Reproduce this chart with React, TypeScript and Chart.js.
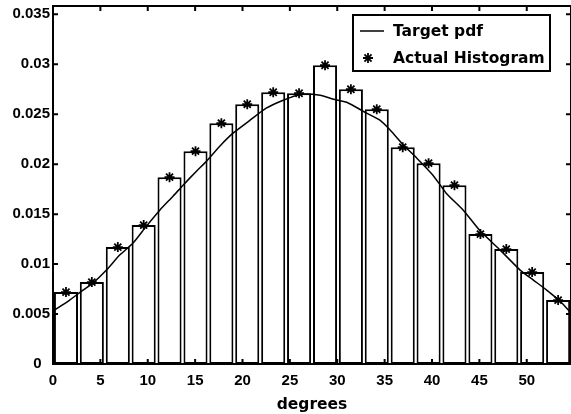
import { useEffect, useRef } from "react";
import { Chart, registerables } from "chart.js";

Chart.register(...registerables);

// Histogram bin centres (degrees) and normalised counts
const binCenters = [1.37, 4.1, 6.84, 9.57, 12.3, 15.04, 17.77, 20.5, 23.24, 25.97, 28.71, 31.44, 34.17, 36.91, 39.64, 42.37, 45.11, 47.84, 50.57, 53.31];
const histValues = [0.0072, 0.0082, 0.0117, 0.0139, 0.0187, 0.0213, 0.0241, 0.026, 0.0272, 0.0271, 0.0299, 0.0275, 0.0255, 0.0217, 0.0201, 0.0179, 0.013, 0.0115, 0.0092, 0.0064];

// Target probability density, sampled along the angle axis
const pdfDegrees = [0, 1.76, 3.17, 4.22, 5.64, 7.04, 8.45, 9.86, 11.27, 12.67, 13.73, 15.14, 16.2, 17.6, 19.0, 20.8, 22.5, 24.3, 26.2, 28.2, 29.6, 31.0, 33.1, 34.5, 35.6, 37.0, 38.4, 40.1, 41.5, 43.3, 45.1, 47.2, 49.3, 50.7, 52.1, 53.5, 54.67];
const pdfValues = [0.0053, 0.0064, 0.0074, 0.0081, 0.0094, 0.0109, 0.0121, 0.0138, 0.0154, 0.0168, 0.0179, 0.0193, 0.0203, 0.0218, 0.0231, 0.0244, 0.0256, 0.0264, 0.027, 0.0269, 0.0265, 0.0262, 0.0251, 0.0244, 0.0234, 0.0219, 0.0206, 0.0189, 0.0171, 0.0154, 0.0133, 0.0114, 0.0094, 0.0084, 0.0074, 0.0063, 0.0051];

const xTickValues = [0, 5, 10, 15, 20, 25, 30, 35, 40, 45, 50];
const xTickLabels = ["0", "5", "10", "15", "20", "25", "30", "35", "40", "45", "50"];
const yTickValues = [0, 0.005, 0.01, 0.015, 0.02, 0.025, 0.03, 0.035];
const yTickLabels = ["0", "0.005", "0.01", "0.015", "0.02", "0.025", "0.03", "0.035"];

const X_MAX = 54.67;
const Y_MAX = 0.03583;

const tickFont = { family: '"Liberation Sans", Arial, sans-serif', size: 15, weight: "bold" as const };
const textFamily = '"DejaVu Sans", sans-serif';

function labelFor(values: number[], labels: string[], v: number) {
  const i = values.findIndex((t) => Math.abs(t - v) < 1e-9);
  return i >= 0 ? labels[i] : "";
}

// Box around the axes with inward tick marks on all four sides
const framePlugin = {
  id: "frame",
  afterDatasetsDraw(chart: any) {
    const { ctx, chartArea: a } = chart;
    const xs = chart.scales.x;
    const ys = chart.scales.y;
    const len = 5;
    ctx.save();
    ctx.strokeStyle = "#000";
    ctx.lineWidth = 2;
    ctx.beginPath();
    xTickValues.forEach((v) => {
      const px = xs.getPixelForValue(v);
      ctx.moveTo(px, a.bottom);
      ctx.lineTo(px, a.bottom - len);
      ctx.moveTo(px, a.top);
      ctx.lineTo(px, a.top + len);
    });
    yTickValues.forEach((v) => {
      const py = ys.getPixelForValue(v);
      ctx.moveTo(a.left, py);
      ctx.lineTo(a.left + len, py);
      ctx.moveTo(a.right, py);
      ctx.lineTo(a.right - len, py);
    });
    ctx.stroke();
    ctx.strokeRect(a.left, a.top, a.right - a.left, a.bottom - a.top);
    ctx.restore();
  },
};

// Boxed legend in the upper right of the axes
const legendPlugin = {
  id: "boxLegend",
  afterDraw(chart: any) {
    const { ctx } = chart;
    const sets = chart.data.datasets.filter((d: any) => d.label);
    const boxX = 353;
    const boxY = 15;
    const boxW = 197;
    const boxH = 56;
    ctx.save();
    ctx.fillStyle = "#fff";
    ctx.fillRect(boxX, boxY, boxW, boxH);
    ctx.strokeStyle = "#000";
    ctx.lineWidth = 2;
    ctx.strokeRect(boxX, boxY, boxW, boxH);
    ctx.font = `bold 15.5px ${textFamily}`;
    ctx.textBaseline = "middle";
    ctx.textAlign = "left";
    ctx.fillStyle = "#000";
    const rows = [31, 58];
    sets.forEach((d: any, i: number) => {
      const y = rows[i];
      if (d.showLine === false) {
        const cx = 368;
        const r = 5;
        ctx.lineWidth = 1.8;
        ctx.beginPath();
        ctx.moveTo(cx, y - r);
        ctx.lineTo(cx, y + r);
        ctx.moveTo(cx - r, y);
        ctx.lineTo(cx + r, y);
        const q = r * Math.SQRT1_2;
        ctx.moveTo(cx - q, y - q);
        ctx.lineTo(cx + q, y + q);
        ctx.moveTo(cx - q, y + q);
        ctx.lineTo(cx + q, y - q);
        ctx.stroke();
      } else {
        ctx.lineWidth = 1.5;
        ctx.beginPath();
        ctx.moveTo(360, y);
        ctx.lineTo(384, y);
        ctx.stroke();
      }
      ctx.fillText(d.label, 393, y + 1);
    });
    ctx.restore();
  },
};

export default function App() {
  const canvasRef = useRef<HTMLCanvasElement | null>(null);

  useEffect(() => {
    document.body.style.margin = "0";
    const canvas = canvasRef.current;
    if (!canvas) return;

    const chart = new Chart(canvas, {
      type: "bar",
      data: {
        datasets: [
          {
            type: "bar",
            data: binCenters.map((x, i) => ({ x, y: histValues[i] })),
            backgroundColor: "#fff",
            borderColor: "#000",
            borderWidth: 2,
            borderSkipped: false,
            categoryPercentage: 1,
            barPercentage: 0.93,
            order: 3,
          } as any,
          {
            type: "line",
            label: "Target pdf",
            data: pdfDegrees.map((x, i) => ({ x, y: pdfValues[i] })),
            borderColor: "#000",
            borderWidth: 1.5,
            pointRadius: 0,
            tension: 0.2,
            fill: false,
            order: 2,
          },
          {
            type: "line",
            label: "Actual Histogram",
            data: binCenters.map((x, i) => ({ x, y: histValues[i] })),
            showLine: false,
            pointStyle: "star",
            pointRadius: 5,
            pointBorderWidth: 1.8,
            pointBorderColor: "#000",
            borderColor: "#000",
            order: 1,
          },
        ],
      },
      options: {
        responsive: false,
        animation: false,
        devicePixelRatio: 1,
        layout: { autoPadding: false, padding: { top: 6, right: 0, bottom: 0, left: 0 } },
        plugins: {
          legend: { display: false },
          tooltip: { enabled: false },
        },
        scales: {
          x: {
            type: "linear",
            min: 0,
            max: X_MAX,
            offset: false,
            grid: { display: false, drawTicks: false },
            border: { display: false },
            ticks: {
              stepSize: 5,
              includeBounds: false,
              autoSkip: false,
              maxRotation: 0,
              padding: 8,
              color: "#000",
              font: tickFont,
              callback: (v: any) => labelFor(xTickValues, xTickLabels, Number(v)),
            },
            title: {
              display: true,
              text: "degrees",
              color: "#000",
              font: { family: textFamily, size: 15.5, weight: "bold", lineHeight: 1.2 },
              padding: { top: 0, bottom: 0 },
            },
            afterFit: (s: any) => {
              s.height = 50;
              s.paddingLeft = 0;
              s.paddingRight = 0;
            },
          },
          y: {
            type: "linear",
            min: 0,
            max: Y_MAX,
            grid: { display: false, drawTicks: false },
            border: { display: false },
            ticks: {
              stepSize: 0.005,
              includeBounds: false,
              autoSkip: false,
              padding: 3,
              color: "#000",
              font: tickFont,
              // the zero label sits a little left of the others
              callback: (v: any) => {
                const t = labelFor(yTickValues, yTickLabels, Number(v));
                return Number(v) === 0 ? t + "  " : t;
              },
            },
            afterFit: (s: any) => {
              s.width = 53;
              s.paddingTop = 0;
              s.paddingBottom = 0;
            },
          },
        },
      } as any,
      plugins: [framePlugin, legendPlugin],
    });

    return () => chart.destroy();
  }, []);

  return (
    <canvas
      ref={canvasRef}
      width={571}
      height={414}
      style={{ display: "block", width: 571, height: 414 }}
    />
  );
}
